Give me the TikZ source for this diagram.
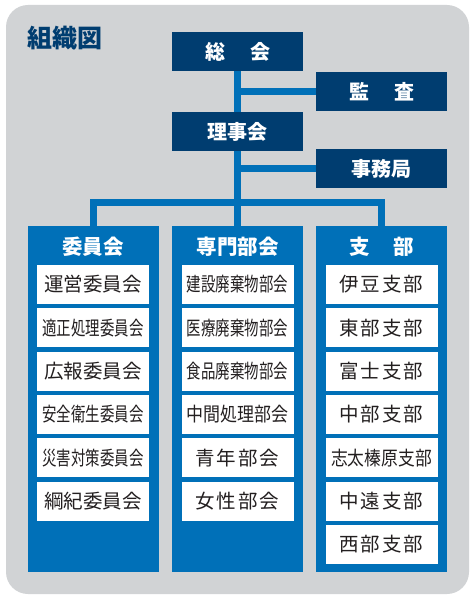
\documentclass[tikz,border=0pt]{standalone}
\usepackage{fontspec}
\setmainfont{Noto Sans CJK JP}
\usepackage{graphicx}
\usetikzlibrary{backgrounds}
\definecolor{navy}{RGB}{0,61,112}
\definecolor{midblue}{RGB}{0,112,184}
\definecolor{bggray}{RGB}{209,211,213}
\definecolor{ink}{RGB}{35,31,32}
\newcommand{\sq}[2]{\scalebox{#1}[1]{#2}}
\newcommand{\ls}{\kern2pt}
\begin{document}
\begin{tikzpicture}[x=1pt,y=-1pt,
  topbox/.style={fill=navy,minimum width=131pt,minimum height=39pt,inner sep=0pt,text=white,font=\fontsize{20}{20}\selectfont\bfseries},
  colbox/.style={fill=midblue,minimum width=131pt,minimum height=346pt,inner sep=0pt},
  colhead/.style={text=white,inner sep=0pt,font=\fontsize{20.5}{20}\selectfont\bfseries},
  itembox/.style={fill=white,minimum width=112pt,minimum height=39pt,inner sep=0pt,text=ink,font=\fontsize{19.5}{20}\selectfont},
  conn/.style={draw=midblue,line width=7pt}]
\useasboundingbox (0,0) rectangle (475,601);
\node[anchor=west,text=navy,inner sep=0pt,font=\fontsize{25}{25}\selectfont\bfseries] (title) at (27,38) {組織図};
% top boxes
\node[topbox] (soukai) at (237.5,51.5) {総\kern25pt会};
\node[topbox] (kansa) at (381.5,91.5) {監\kern25pt査};
\node[topbox] (rijikai) at (237.5,131.5) {理事会};
\node[topbox] (jimu) at (381.5,168.5) {事務局};
% columns
\node[colbox] (col1) at (93,399) {};
\node[colbox] (col2) at (237.5,399) {};
\node[colbox] (col3) at (381.5,399) {};
\node[colhead] (h1) at (93,247) {委員会};
\node[colhead] (h2) at (237.5,247) {専門部会};
\node[colhead] (h3) at (381.5,247) {支\kern24pt部};
\coordinate (bus) at (237.5,203);
% connectors and background
\begin{pgfonlayer}{background}
\fill[bggray,rounded corners=22pt] (6,5) rectangle (469,594);
\draw[conn] (soukai.south) -- (col2.north);
\draw[conn] (soukai.south |- kansa.west) -- (kansa.west);
\draw[conn] (rijikai.south |- jimu.west) -- (jimu.west);
\draw[conn] (col1.north) -- (col1.north |- bus) -- (col3.north |- bus) -- (col3.north);
\end{pgfonlayer}
% items col1
\node[itembox] (a1) at (93,284.5) {運営委員会};
\node[itembox] (a2) at (93,327.8) {\sq{0.74}{適正処理委員会}};
\node[itembox] (a3) at (93,371.1) {広報委員会};
\node[itembox] (a4) at (93,414.4) {\sq{0.74}{安全衛生委員会}};
\node[itembox] (a5) at (93,457.7) {\sq{0.74}{災害対策委員会}};
\node[itembox] (a6) at (93,501.0) {綱紀委員会};
% items col2
\node[itembox] (b1) at (237.5,284.5) {\sq{0.74}{建設廃棄物部会}};
\node[itembox] (b2) at (237.5,327.8) {\sq{0.74}{医療廃棄物部会}};
\node[itembox] (b3) at (237.5,371.1) {\sq{0.74}{食品廃棄物部会}};
\node[itembox] (b4) at (237.5,414.4) {\sq{0.87}{中間処理部会}};
\node[itembox] (b5) at (237.5,457.7) {青\ls 年\ls 部\ls 会};
\node[itembox] (b6) at (237.5,501.0) {女\ls 性\ls 部\ls 会};
% items col3
\node[itembox] (c1) at (381.5,284.5) {伊\ls 豆\ls 支\ls 部};
\node[itembox] (c2) at (381.5,327.8) {東\ls 部\ls 支\ls 部};
\node[itembox] (c3) at (381.5,371.1) {富\ls 士\ls 支\ls 部};
\node[itembox] (c4) at (381.5,414.4) {中\ls 部\ls 支\ls 部};
\node[itembox] (c5) at (381.5,457.7) {\sq{0.86}{志太榛原支部}};
\node[itembox] (c6) at (381.5,501.0) {中\ls 遠\ls 支\ls 部};
\node[itembox] (c7) at (381.5,544.3) {西\ls 部\ls 支\ls 部};
\end{tikzpicture}
\end{document}
